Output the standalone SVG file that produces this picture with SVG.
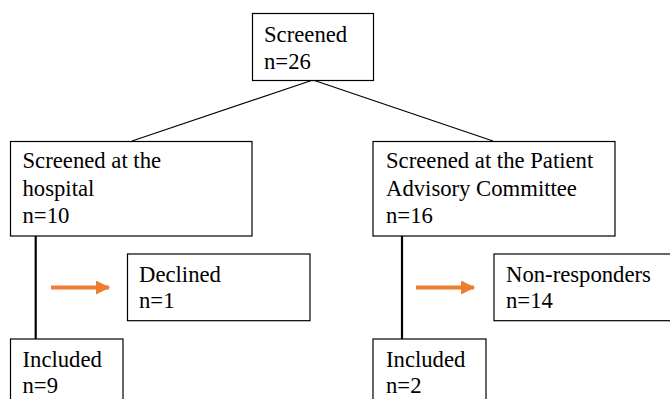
<svg xmlns="http://www.w3.org/2000/svg" width="670" height="399" viewBox="0 0 670 399">
<defs>
<style>
.box{fill:#fff;stroke:#000;stroke-width:1.2}
.t{font-family:"Liberation Serif","Times New Roman",serif;font-size:22.7px;fill:#000}
.ln{stroke:#000;stroke-width:1.2;fill:none}
.vl{stroke:#000;stroke-width:2.2;fill:none}
.ar{stroke:#ED7D31;stroke-width:4;fill:none}
</style>
<marker id="ah" markerWidth="14" markerHeight="14" refX="13" refY="7" orient="auto" markerUnits="userSpaceOnUse" viewBox="0 0 14 14">
<path d="M0,0 L14,7 L0,14 Z" fill="#ED7D31"/>
</marker>
</defs>
<rect width="670" height="399" fill="#fff"/>
<g id="connectors">
<line class="ln" x1="313" y1="80" x2="132" y2="141"/>
<line class="ln" x1="313" y1="80" x2="493" y2="141"/>
<line class="vl" x1="35.7" y1="236" x2="35.7" y2="339"/>
<line class="vl" x1="402" y1="236" x2="402" y2="339"/>
<line class="ar" x1="51" y1="287.5" x2="109" y2="287.5" marker-end="url(#ah)"/>
<line class="ar" x1="416" y1="287.5" x2="474" y2="287.5" marker-end="url(#ah)"/>
</g>
<g id="screened">
<rect class="box" x="252.5" y="13.5" width="121" height="67"/>
<text class="t" x="264" y="42">Screened</text>
<text class="t" x="264" y="69">n=26</text>
</g>
<g id="hospital">
<rect class="box" x="10.5" y="141.5" width="241.5" height="94.5"/>
<text class="t" x="22.5" y="168">Screened at the</text>
<text class="t" x="22.5" y="196">hospital</text>
<text class="t" x="22.5" y="223">n=10</text>
</g>
<g id="pac">
<rect class="box" x="373" y="141.5" width="242" height="94.5"/>
<text class="t" x="386" y="168">Screened at the Patient</text>
<text class="t" x="386" y="196">Advisory Committee</text>
<text class="t" x="386" y="223">n=16</text>
</g>
<g id="declined">
<rect class="box" x="127.5" y="254" width="182.5" height="66.7"/>
<text class="t" x="139" y="282">Declined</text>
<text class="t" x="139" y="308">n=1</text>
</g>
<g id="nonresponders">
<rect class="box" x="494" y="254" width="190" height="66.7"/>
<text class="t" x="506" y="282">Non-responders</text>
<text class="t" x="506" y="308">n=14</text>
</g>
<g id="included1">
<rect class="box" x="10.5" y="339" width="112.5" height="80"/>
<text class="t" x="22.5" y="367">Included</text>
<text class="t" x="22.5" y="393">n=9</text>
</g>
<g id="included2">
<rect class="box" x="373" y="339" width="113" height="80"/>
<text class="t" x="386" y="367">Included</text>
<text class="t" x="386" y="393">n=2</text>
</g>
</svg>
